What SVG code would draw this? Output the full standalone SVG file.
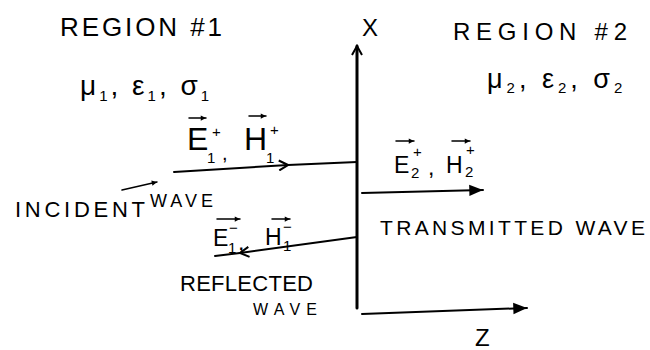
<svg xmlns="http://www.w3.org/2000/svg" width="650" height="350" viewBox="0 0 650 350">
<style>
text{font-family:"Liberation Sans","DejaVu Sans",sans-serif;fill:#000}
.t{font-size:24px}
.sub{font-size:15px}
.ln{stroke:#000;fill:none;stroke-linecap:round;stroke-linejoin:round}
</style>
<defs>
<marker id="open" viewBox="0 0 12 12" refX="10" refY="6" markerWidth="12" markerHeight="12" markerUnits="userSpaceOnUse" orient="auto">
<path d="M1,1 L10,6 L1,11" fill="none" stroke="#000" stroke-width="2"/>
</marker>
<marker id="fill" viewBox="0 0 14 12" refX="13" refY="6" markerWidth="16" markerHeight="14" markerUnits="userSpaceOnUse" orient="auto">
<path d="M1,1 L13,6 L1,11 Z" fill="#000"/>
</marker>
<marker id="vec" viewBox="0 0 8 8" refX="7" refY="4" markerWidth="7" markerHeight="7" markerUnits="userSpaceOnUse" orient="auto">
<path d="M1,1 L7,4 L1,7 Z" fill="#000"/>
</marker>
</defs>
<rect width="650" height="350" fill="#fff"/>

<g id="connectors">
<path class="ln" d="M357,308 L357,46" stroke-width="3" marker-end="url(#open)"/>
<path class="ln" d="M362,314 L527,308" stroke-width="2" marker-end="url(#fill)"/>
<path class="ln" d="M174,172 L288,165 L357,162" stroke-width="2" marker-mid="url(#open)"/>
<path class="ln" d="M122,190 L157,182" stroke-width="1.5" marker-end="url(#vec)"/>
<path class="ln" d="M362,193 L483,190" stroke-width="2" marker-end="url(#fill)"/>
<path class="ln" d="M357,237 L240,253 L215,256" stroke-width="2" marker-mid="url(#open)"/>
</g>

<g id="axis-x"><text class="t" x="362" y="36" font-size="22">X</text></g>
<g id="axis-z"><text class="t" x="475" y="346" font-size="20">Z</text></g>

<g id="region1">
<text x="60" y="36" font-size="26" textLength="162" lengthAdjust="spacing">REGION #1</text>
<text x="80" y="95" font-size="28" letter-spacing="3">μ<tspan class="sub" font-size="16" dy="6">1</tspan><tspan dy="-6">, ε</tspan><tspan class="sub" font-size="16" dy="6">1</tspan><tspan dy="-6">, σ</tspan><tspan class="sub" font-size="16" dy="6">1</tspan></text>
</g>

<g id="region2">
<text x="453" y="40" font-size="24" textLength="174" lengthAdjust="spacing">REGION #2</text>
<text x="487" y="88" font-size="27" letter-spacing="4">μ<tspan class="sub" font-size="16" dy="5">2</tspan><tspan dy="-5">, ε</tspan><tspan class="sub" font-size="16" dy="5">2</tspan><tspan dy="-5">, σ</tspan><tspan class="sub" font-size="16" dy="5">2</tspan></text>
</g>

<g id="incident-fields">
<path class="ln" d="M189,118 L206,118" stroke-width="1.5" marker-end="url(#vec)"/>
<path class="ln" d="M249,116 L266,116" stroke-width="1.5" marker-end="url(#vec)"/>
<text font-size="32"><tspan x="187" y="150">E</tspan><tspan class="sub" font-size="18" x="212" y="137">+</tspan><tspan class="sub" font-size="18" x="207" y="163">1</tspan><tspan x="222" y="160" font-size="20">,</tspan><tspan x="244" y="150">H</tspan><tspan class="sub" font-size="18" x="270" y="135">+</tspan><tspan class="sub" font-size="18" x="266" y="163">1</tspan></text>
</g>

<g id="incident-wave">
<text x="15" y="217" font-size="22" textLength="130" lengthAdjust="spacing">INCIDENT</text>
<text x="150" y="207" font-size="18" textLength="63" lengthAdjust="spacing">WAVE</text>
</g>

<g id="transmitted-fields">
<path class="ln" d="M396,141 L414,141" stroke-width="1.5" marker-end="url(#vec)"/>
<path class="ln" d="M452,141 L470,141" stroke-width="1.5" marker-end="url(#vec)"/>
<text font-size="23"><tspan x="394" y="173">E</tspan><tspan class="sub" x="413" y="157">+</tspan><tspan class="sub" x="411" y="178">2</tspan><tspan x="428" y="175">,</tspan><tspan x="446" y="173">H</tspan><tspan class="sub" x="466" y="155">+</tspan><tspan class="sub" x="465" y="177">2</tspan></text>
</g>

<g id="transmitted-wave">
<text x="380" y="235" font-size="21" textLength="265" lengthAdjust="spacing">TRANSMITTED WAVE</text>
</g>

<g id="reflected-fields">
<path class="ln" d="M217,219 L240,219" stroke-width="1.5" marker-end="url(#vec)"/>
<path class="ln" d="M272,219 L290,219" stroke-width="1.5" marker-end="url(#vec)"/>
<text font-size="23"><tspan x="213" y="246">E</tspan><tspan class="sub" x="229" y="233">−</tspan><tspan class="sub" x="228" y="253">1</tspan><tspan x="238" y="250">,</tspan><tspan x="265" y="245">H</tspan><tspan class="sub" x="283" y="232">−</tspan><tspan class="sub" x="283" y="251">1</tspan></text>
</g>

<g id="reflected-wave">
<text x="180" y="291" font-size="22" textLength="133" lengthAdjust="spacing">REFLECTED</text>
<text x="253" y="315" font-size="16" textLength="64" lengthAdjust="spacing">WAVE</text>
</g>
</svg>
